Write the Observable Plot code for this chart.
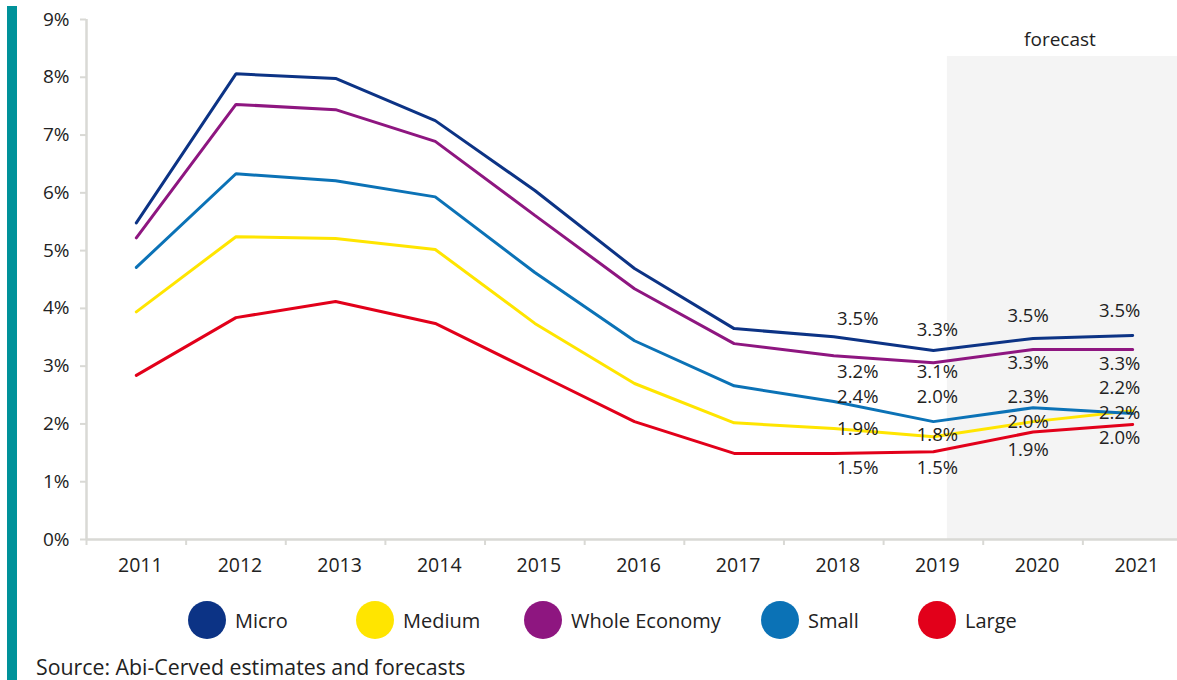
<!DOCTYPE html>
<html><head><meta charset="utf-8">
<script src="https://cdn.jsdelivr.net/npm/d3@7"></script>
<script src="https://cdn.jsdelivr.net/npm/@observablehq/plot@0.6"></script>
<style>
body{margin:0;background:#fff;font-family:"Open Sans",sans-serif;}
#wrap{position:relative;width:1177px;height:680px;overflow:hidden;background:#fff;}
#bar{position:absolute;left:7px;top:6px;width:10px;height:674px;background:#00929a;}
#chart{position:absolute;left:0;top:0;}
.leg{position:absolute;top:601px;height:38px;display:flex;align-items:center;font-size:20px;color:#222;white-space:nowrap;}
.leg .dot{width:38px;height:38px;border-radius:50%;display:inline-block;margin-right:9px;flex:none;}
#source{position:absolute;left:36px;top:652px;font-size:21.3px;color:#222;white-space:nowrap;}
</style></head>
<body>
<div id="wrap">
  <div id="bar"></div>
  <div id="chart"></div>
  <div id="legend"></div>
  <div id="source">Source: Abi-Cerved estimates and forecasts</div>
</div>
<script>
// ---- data ----
const years = [2011, 2012, 2013, 2014, 2015, 2016, 2017, 2018, 2019, 2020, 2021];
const seriesNames = ["Micro", "Medium", "Whole Economy", "Small", "Large"];
const seriesColors = ["#0c3385", "#ffe500", "#8e1680", "#0b72b6", "#e2001a"];
const micro        = [5.48, 8.06, 7.98, 7.25, 6.04, 4.69, 3.65, 3.51, 3.27, 3.48, 3.53];
const medium       = [3.94, 5.24, 5.21, 5.02, 3.74, 2.70, 2.02, 1.92, 1.78, 2.04, 2.23];
const wholeEconomy = [5.22, 7.53, 7.44, 6.89, 5.61, 4.34, 3.39, 3.18, 3.06, 3.29, 3.29];
const small        = [4.71, 6.33, 6.21, 5.93, 4.62, 3.44, 2.66, 2.39, 2.04, 2.28, 2.18];
const large        = [2.84, 3.84, 4.12, 3.74, 2.89, 2.04, 1.49, 1.49, 1.52, 1.86, 1.99];
const labelYears = [2018, 2019, 2020, 2021];
const microLabels  = ["3.5%", "3.3%", "3.5%", "3.5%"];
const mediumLabels = ["1.9%", "1.8%", "2.0%", "2.2%"];
const wholeLabels  = ["3.2%", "3.1%", "3.3%", "3.3%"];
const smallLabels  = ["2.4%", "2.0%", "2.3%", "2.2%"];
const largeLabels  = ["1.5%", "1.5%", "1.9%", "2.0%"];
const yTicks = [0, 1, 2, 3, 4, 5, 6, 7, 8, 9];
const forecastStart = 2019.14;
const forecastTop = 8.36;
const forecastText = "forecast";

// ---- build tables ----
const seriesValues = [micro, medium, wholeEconomy, small, large];
const seriesLabels = [microLabels, mediumLabels, wholeLabels, smallLabels, largeLabels];
const rows = [];
seriesNames.forEach((s, i) => years.forEach((y, j) => rows.push({series: s, year: y, value: seriesValues[i][j]})));
const labelRows = [];
seriesNames.forEach((s, i) => labelYears.forEach((y, j) => {
  labelRows.push({series: s, year: y, value: seriesValues[i][years.indexOf(y)], text: seriesLabels[i][j], si: i, yi: j});
}));

// layout offsets (pixels) for the data labels
const labelDx = [24, 4, -5, -13];
const labelDy = [
  [-18, -20, -22, -24],  // Micro
  [1, -2, 0, 2],         // Medium
  [16, 9, 14, 15],       // Whole Economy
  [-4, -25, -11, -25],   // Small
  [15, 16, 18, 14]       // Large
];

const bounds = [years[0] - 0.5, ...years.map(y => y + 0.5)];
const xDomain = [bounds[0], bounds[bounds.length - 1]];
const axisColor = "#d9d9d5";
const textColor = "#222";

const labelMarks = labelRows.map(d => Plot.text([d], {
  x: "year", y: "value", text: "text",
  dx: labelDx[d.yi], dy: labelDy[d.si][d.yi],
  fontSize: 18.5, fill: textColor
}));

const plot = Plot.plot({
  width: 1177,
  height: 585,
  marginTop: 19,
  marginBottom: 46,
  marginLeft: 86,
  marginRight: 0,
  style: {fontFamily: "'Open Sans', sans-serif", background: "transparent", overflow: "visible"},
  x: {type: "linear", domain: xDomain, range: [86, 1182]},
  y: {domain: [0, 9]},
  color: {domain: seriesNames, range: seriesColors},
  marks: [
    Plot.rect([{x1: forecastStart, x2: xDomain[1], y1: 0, y2: forecastTop}], {x1: "x1", x2: "x2", y1: "y1", y2: "y2", fill: "#f4f4f4"}),
    Plot.text([{x: (forecastStart + xDomain[1]) / 2, y: forecastTop, t: forecastText}], {x: "x", y: "y", text: "t", dy: -17, dx: -5, fontSize: 19, fill: textColor}),
    Plot.ruleX([xDomain[0]], {y1: 0, y2: 9, stroke: axisColor, strokeWidth: 2.5}),
    Plot.ruleY([0], {x1: xDomain[0], x2: xDomain[1], stroke: axisColor, strokeWidth: 2.5}),
    Plot.axisY({ticks: yTicks, tickFormat: d => d + "%", tickSize: 6, tickPadding: 11, stroke: axisColor, strokeWidth: 2, fontSize: 19, fill: textColor, label: null}),
    Plot.axisX({ticks: bounds, tickFormat: () => "", tickSize: 6, stroke: axisColor, strokeWidth: 2, label: null}),
    Plot.axisX({ticks: years, tickFormat: d => String(d), tickSize: 0, tickPadding: 19, dx: 4, fontSize: 19.5, fill: textColor, label: null}),
    Plot.line(rows, {x: "year", y: "value", z: "series", stroke: "series", strokeWidth: 3, strokeLinejoin: "miter"}),
    ...labelMarks
  ]
});
document.getElementById("chart").appendChild(plot);

// legend
const legendLeft = [188, 356, 524, 761, 918];
const legend = document.getElementById("legend");
seriesNames.forEach((s, i) => {
  const item = document.createElement("div");
  item.className = "leg";
  item.style.left = legendLeft[i] + "px";
  const dot = document.createElement("span");
  dot.className = "dot";
  dot.style.background = seriesColors[i];
  item.appendChild(dot);
  item.appendChild(document.createTextNode(s));
  legend.appendChild(item);
});
</script>
</body></html>
